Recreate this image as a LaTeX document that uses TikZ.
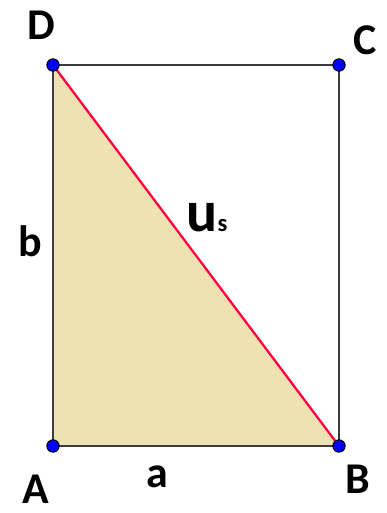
\documentclass[tikz,border=0pt]{standalone}
\usepackage{fontspec}
\setmainfont{Carlito}
\usetikzlibrary{positioning}
\definecolor{isian}{RGB}{238,225,178}
\definecolor{merahdiag}{RGB}{255,0,64}
\definecolor{garis}{RGB}{60,60,60}
\definecolor{titikbiru}{RGB}{0,0,255}

\begin{document}
\begin{tikzpicture}[x=0.02cm, y=0.02cm,
    label/.style={font=\bfseries\fontsize{25}{25}\selectfont, inner sep=0pt},
    titik/.style={circle, fill=titikbiru, draw=black, line width=0.6pt, minimum size=7pt, inner sep=0pt}]
        \useasboundingbox (0,0) rectangle (386,513);
        % sudut persegi panjang
        \coordinate (A) at (53,67);
        \coordinate (B) at (339,67);
        \coordinate (C) at (339,448);
        \coordinate (D) at (53,448);
        \fill[isian] (A) -- (B) -- (D) -- cycle;
        \draw[garis, line width=1.1pt] (A) -- (B) -- (C) -- (D) -- cycle;
        \draw[merahdiag, line width=1.3pt] (D) -- (B);
        \foreach \p in {A,B,C,D}
            \node[titik] (t\p) at (\p) {};
        % label
        \node[label] (lA) at (36,24) {A};
        \node[label] (lB) at (358,34) {B};
        \node[label] (lC) at (365,473) {C};
        \node[label] (lD) at (41,488) {D};
        \node[label] (la) at (157,36) {a};
        \node[label] (lb) at (30,272) {b};
        \node[label, font=\bfseries\fontsize{33}{33}\selectfont] (lu) at (207,295) {u{\fontsize{14}{14}\selectfont s}};
    \end{tikzpicture}
\end{document}
